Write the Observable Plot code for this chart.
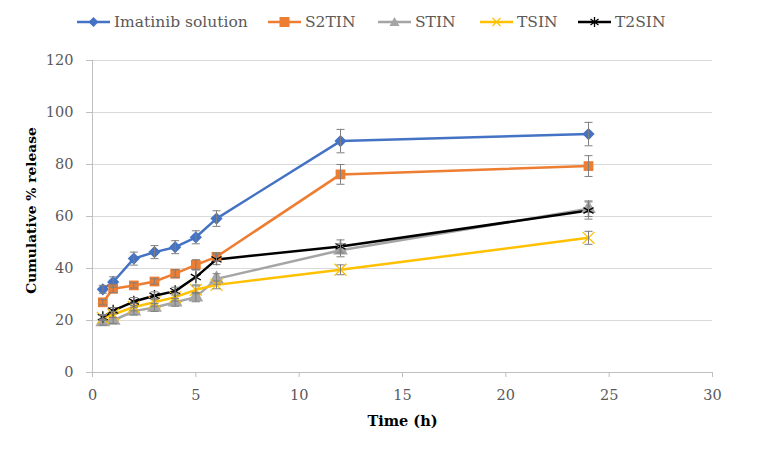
<!DOCTYPE html>
<html>
<head>
<meta charset="utf-8">
<script src="https://cdn.jsdelivr.net/npm/d3@7"></script>
<script src="https://cdn.jsdelivr.net/npm/@observablehq/plot@0.6"></script>
<style>
  body { margin: 0; background: #fff; font-family: "DejaVu Serif", serif; }
  svg text { font-family: "DejaVu Serif", serif; }
  #legend { height: 45px; position: relative; }
  .item { position: absolute; top: 13px; display: flex; align-items: center; color: #595959; font-size: 15.5px; }
  .item svg { margin-right: 4px; }
</style>
</head>
<body>
<div id="legend"></div>
<div id="chart"></div>
<script>
const time = [0.5, 1, 2, 3, 4, 5, 6, 12, 24]

const series = ["Imatinib solution", "S2TIN", "STIN", "TSIN", "T2SIN"]
const colors = ["#4472C4", "#ED7D31", "#A5A5A5", "#FFC000", "#000000"]
const symbols = ["diamond2", "square", "triangle", "times", "asterisk"]

const imatinib = [32, 34.8, 43.8, 46.3, 48.2, 52, 59.2, 89, 91.7]
const s2tin = [27, 32.2, 33.5, 35, 38, 41.4, 44.5, 76.2, 79.4]
const stin = [19.4, 20, 23.6, 25, 27, 29, 36, 47, 63]
const tsin = [21, 22.3, 25.2, 27, 29, 31.8, 33.7, 39.5, 51.8]
const t2sin = [21.3, 23.8, 27.3, 29.5, 31.3, 36.7, 43.5, 48.5, 62.3]

// standard deviations (error bars)
const imatinibSd = [1.5, 2, 2.5, 2.5, 2.5, 2.5, 3, 4.5, 4.5]
const s2tinSd = [1, 1.5, 1, 1, 1.5, 2, 1.5, 3.8, 4]
const stinSd = [1.2, 1.2, 1.5, 1.5, 1.5, 1.8, 2, 2.5, 3]
const tsinSd = [1, 1.2, 1.5, 1.5, 1.5, 1.5, 1.5, 1.9, 2.5]
const t2sinSd = [1, 1.2, 1.5, 1.5, 1.5, 3, 2, 2.5, 3.3]

const xTicks = [0, 5, 10, 15, 20, 25, 30]
const yTicks = [0, 20, 40, 60, 80, 100, 120]

const values = [imatinib, s2tin, stin, tsin, t2sin]
const sds = [imatinibSd, s2tinSd, stinSd, tsinSd, t2sinSd]

const font = "DejaVu Serif"

let data = []
series.forEach((s, i) => {
  time.forEach((t, j) => {
    data.push({series: s, time: t, value: values[i][j], sd: sds[i][j]})
  })
})

// little horizontal cap for error bars
const cap = {draw(ctx) { ctx.moveTo(-4, 0); ctx.lineTo(4, 0) }}

let dotMarks = series.map((s, i) => {
  let filled = i < 3
  return Plot.dot(data.filter(d => d.series == s), {
    x: "time",
    y: "value",
    symbol: () => symbols[i],
    r: 5.5,
    fill: filled ? colors[i] : "none",
    stroke: filled ? "none" : colors[i],
    strokeWidth: 1.3
  })
})

let chart = Plot.plot({
  width: 766,
  height: 410,
  marginTop: 15,
  marginLeft: 92,
  marginRight: 54,
  marginBottom: 83,
  style: {fontFamily: font, fontSize: "15px", color: "#595959"},
  x: {domain: [0, 30]},
  y: {domain: [0, 120]},
  symbol: {domain: symbols, range: symbols},
  marks: [
    Plot.gridY(yTicks, {stroke: "#d9d9d9", strokeOpacity: 1}),
    Plot.ruleX([0], {stroke: "#bfbfbf"}),
    Plot.ruleY([0], {stroke: "#bfbfbf"}),
    Plot.axisY(yTicks, {tickSize: 6, tickPadding: 13, stroke: "#bfbfbf", fill: "#595959", fontFamily: font, fontSize: 14.5, label: null}),
    Plot.axisX(xTicks, {tickSize: 5, tickPadding: 12, stroke: "#bfbfbf", fill: "#595959", fontFamily: font, fontSize: 14.5, label: null}),
    Plot.text(["Time (h)"], {frameAnchor: "bottom", dy: 53, fontWeight: "bold", fill: "#000", fontFamily: font, fontSize: 14.5}),
    Plot.text(["Cumulative % release"], {frameAnchor: "left", textAnchor: "middle", rotate: -90, dx: -61, dy: -6, fontWeight: "bold", fill: "#000", fontFamily: font, fontSize: 13.8}),
    Plot.line(data, {x: "time", y: "value", z: "series", stroke: d => colors[series.indexOf(d.series)], strokeWidth: 2.5}),
    ...dotMarks,
    Plot.ruleX(data, {x: "time", y1: d => d.value - d.sd, y2: d => d.value + d.sd, stroke: "#7f7f7f", strokeWidth: 1}),
    Plot.dot(data, {x: "time", y: d => d.value - d.sd, symbol: cap, stroke: "#7f7f7f", fill: "none", strokeWidth: 1}),
    Plot.dot(data, {x: "time", y: d => d.value + d.sd, symbol: cap, stroke: "#7f7f7f", fill: "none", strokeWidth: 1})
  ]
})

d3.select('#chart').append(() => chart)

// legend
const legendLeft = [77, 268, 378, 480, 578]
const symbolPaths = {
  diamond2: "M16.5,-5L21.5,0L16.5,5L11.5,0Z",
  square: "M11.5,-5H21.5V5H11.5Z",
  triangle: "M16.5,-5L21.5,4L11.5,4Z",
  times: "M12.5,-4L20.5,4M12.5,4L20.5,-4",
  asterisk: "M16.5,-5V5M12.5,-3L20.5,3M12.5,3L20.5,-3"
}
let legend = d3.select('#legend')
series.forEach((s, i) => {
  let item = legend.append('div').attr('class', 'item').style('left', legendLeft[i] + 'px')
  let svg = item.append('svg').attr('width', 33).attr('height', 14).attr('viewBox', '0 -7 33 14')
  svg.append('line').attr('x1', 0).attr('x2', 33).attr('y1', 0).attr('y2', 0)
    .attr('stroke', colors[i]).attr('stroke-width', 2.5)
  let filled = i < 3
  svg.append('path').attr('d', symbolPaths[symbols[i]])
    .attr('fill', filled ? colors[i] : 'none')
    .attr('stroke', filled ? 'none' : colors[i])
    .attr('stroke-width', 1.3)
  item.append('span').text(s)
})
</script>
</body>
</html>
